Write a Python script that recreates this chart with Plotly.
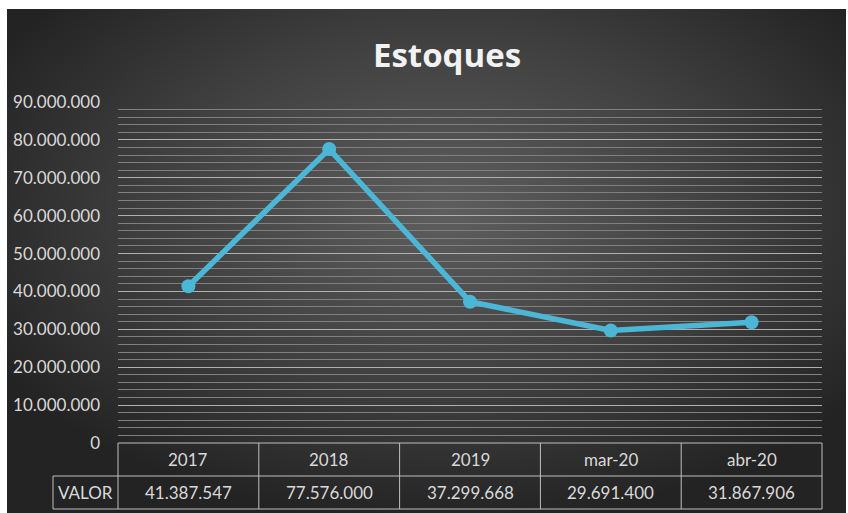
import base64
import plotly.graph_objects as go

# ---- data ----
categories = ["2017", "2018", "2019", "mar-20", "abr-20"]
valor = [41387547, 77576000, 37299668, 29691400, 31867906]
value_labels = ["41.387.547", "77.576.000", "37.299.668", "29.691.400", "31.867.906"]
row_label = "VALOR"
title_text = "Estoques"

# ---- layout geometry (pixels) ----
W, H = 848, 513
L, R, T, B = 118, 822, 102, 443
pw, ph = R - L, B - T
FONT = "Lato"
TXT = "#d9d9d9"

def px_x(p):
    return (p - L) / pw

def px_y(p):
    return (B - p) / ph

svg = f'''<svg xmlns="http://www.w3.org/2000/svg" width="839" height="504" viewBox="0 0 839 504">
<defs><radialGradient id="g" cx="52%" cy="40%" r="62%">
<stop offset="0" stop-color="#5e5e5e"/><stop offset="0.55" stop-color="#404040"/><stop offset="1" stop-color="#232323"/>
</radialGradient></defs><rect width="839" height="504" fill="url(#g)"/></svg>'''
src = "data:image/svg+xml;base64," + base64.b64encode(svg.encode()).decode()

fig = go.Figure()
fig.add_trace(go.Scatter(
    x=list(range(len(categories))), y=valor, mode="lines+markers",
    line=dict(color="#4cb6d6", width=5.5),
    marker=dict(size=14, color="#4cb6d6"),
    hoverinfo="skip", showlegend=False,
))

shapes = []
lc = "#bfbfbf"
y_r1t, y_r1b, y_r2b = px_y(443), px_y(476), px_y(509)
n = len(categories)
shapes.append(dict(type="line", xref="paper", yref="paper", x0=0, x1=1, y0=y_r1t, y1=y_r1t, line=dict(color=lc, width=1)))
shapes.append(dict(type="line", xref="paper", yref="paper", x0=px_x(53), x1=1, y0=y_r1b, y1=y_r1b, line=dict(color=lc, width=1)))
shapes.append(dict(type="line", xref="paper", yref="paper", x0=px_x(53), x1=1, y0=y_r2b, y1=y_r2b, line=dict(color=lc, width=1)))
for i in range(n + 1):
    shapes.append(dict(type="line", xref="paper", yref="paper", x0=i / n, x1=i / n, y0=y_r2b, y1=y_r1t, line=dict(color=lc, width=1)))
shapes.append(dict(type="line", xref="paper", yref="paper", x0=px_x(53), x1=px_x(53), y0=y_r2b, y1=y_r1b, line=dict(color=lc, width=1)))

annotations = []
for i, (c, v) in enumerate(zip(categories, value_labels)):
    annotations.append(dict(x=i, xref="x", y=(y_r1t + y_r1b) / 2, yref="paper", text=c, showarrow=False,
                            font=dict(family=FONT, size=17, color=TXT), xanchor="center", yanchor="middle"))
    annotations.append(dict(x=i, xref="x", y=(y_r1b + y_r2b) / 2, yref="paper", text=v, showarrow=False,
                            font=dict(family=FONT, size=17, color=TXT), xanchor="center", yanchor="middle"))
annotations.append(dict(x=px_x(53) / 2, xref="paper", y=(y_r1b + y_r2b) / 2, yref="paper", text=row_label,
                        showarrow=False, font=dict(family=FONT, size=17, color=TXT), xanchor="center", yanchor="middle"))

fig.update_layout(
    width=W, height=H,
    margin=dict(l=L, r=W - R, t=T, b=H - B, pad=0),
    paper_bgcolor="white", plot_bgcolor="rgba(0,0,0,0)",
    separators=",.",
    title=dict(text=f"<b>{title_text}</b>", x=447 / W, xanchor="center", y=1 - 55 / H, yanchor="middle",
               font=dict(family="Open Sans", size=33, color="#f2f2f2")),
    xaxis=dict(range=[-0.5, n - 0.5], showgrid=False, zeroline=False, showticklabels=False, ticks="", fixedrange=True),
    yaxis=dict(range=[0, 90e6], dtick=10e6, tickformat=",.0f", showgrid=True, gridcolor="#b0b0b0", gridwidth=1,
               zeroline=False, ticks="", ticklen=0, tickfont=dict(family=FONT, size=17, color=TXT),
               minor=dict(dtick=2e6, showgrid=True, gridcolor="#808080", gridwidth=1), ticklabelstandoff=17),
    images=[dict(source=src, xref="paper", yref="paper", x=px_x(7), y=px_y(9), sizex=(846 - 7) / pw, sizey=(513 - 9) / ph,
                 sizing="stretch", layer="below", xanchor="left", yanchor="top")],
    shapes=shapes, annotations=annotations,
)
fig.write_html("out.html", config={"displayModeBar": False},
               post_script="document.body.style.margin='0px';document.body.style.padding='0px';")
